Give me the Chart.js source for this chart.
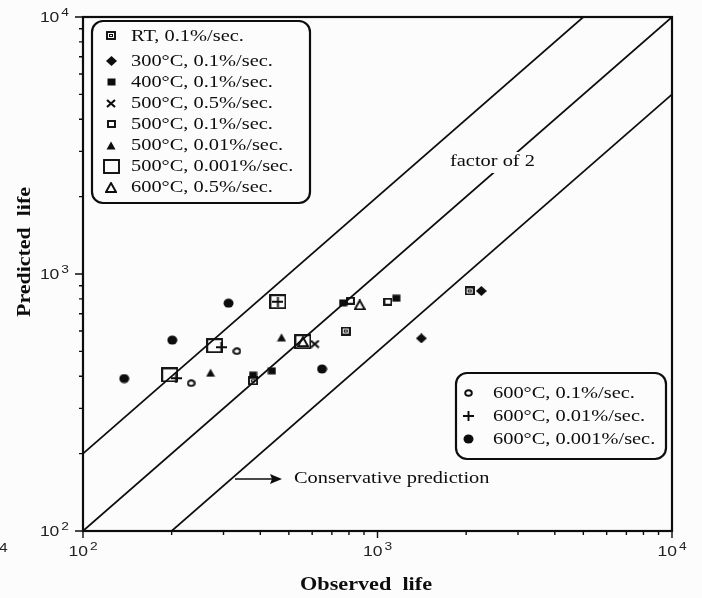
<!DOCTYPE html>
<html>
<head>
<meta charset="utf-8">
<script src="https://cdn.jsdelivr.net/npm/chart.js@4.4.1/dist/chart.umd.min.js"></script>
<style>
html,body{margin:0;padding:0;background:#fcfcfc;}
#wrap{width:702px;height:598px;}
</style>
</head>
<body>
<div id="wrap"><canvas id="c" width="702" height="598"></canvas></div>
<script>
// ---------------- data ----------------
const seriesLabels = [
  "RT, 0.1%/sec.",
  "300°C, 0.1%/sec.",
  "400°C, 0.1%/sec.",
  "500°C, 0.5%/sec.",
  "500°C, 0.1%/sec.",
  "500°C, 0.01%/sec.",
  "500°C, 0.001%/sec.",
  "600°C, 0.5%/sec.",
  "600°C, 0.1%/sec.",
  "600°C, 0.01%/sec.",
  "600°C, 0.001%/sec."
];
const rtObs = [378, 780, 2056],        rtPred = [384, 600, 859];
const t300Obs = [1409, 2252],          t300Pred = [562, 859];
const t400Obs = [378, 438, 764, 1159], t400Pred = [404, 420, 772, 805];
const t500r5Obs = [612],               t500r5Pred = [534];
const t500r1Obs = [809, 1085],         t500r1Pred = [787, 780];
const t500r01Obs = [271, 472],         t500r01Pred = [413, 567];
const t500r001Obs = [197, 280, 459, 558], t500r001Pred = [405, 526, 780, 545];
const t600r5Obs = [558, 870],          t600r5Pred = [545, 758];
const t600r1Obs = [233, 333],          t600r1Pred = [376, 501];
const t600r01Obs = [207, 295, 459],    t600r01Pred = [393, 519, 780];
const t600r001Obs = [138, 201, 312, 648], t600r001Pred = [392, 553, 770, 427];

const seriesObs  = [rtObs, t300Obs, t400Obs, t500r5Obs, t500r1Obs, t500r01Obs, t500r001Obs, t600r5Obs, t600r1Obs, t600r01Obs, t600r001Obs];
const seriesPred = [rtPred, t300Pred, t400Pred, t500r5Pred, t500r1Pred, t500r01Pred, t500r001Pred, t600r5Pred, t600r1Pred, t600r01Pred, t600r001Pred];
const seriesMarkers = ["rt","diamond","fsquare","x","osquare","ftri","bigsq","otri","ocircle","plus","fcircle"];

// reference lines: predicted = 2x observed, = observed, = observed/2
const upperLineX = [100, 5000],  upperLineY = [200, 10000];
const equalLineX = [100, 10000], equalLineY = [100, 10000];
const lowerLineX = [200, 10000], lowerLineY = [100, 5000];

const axisMin = 100, axisMax = 10000;
const tickValues = [100, 1000, 10000];
const tickBases = ["10", "10", "10"];
const tickExps = ["2", "3", "4"];
const xTitle = "Observed  life";
const yTitle = "Predicted  life";
const note1 = "factor of 2";
const note2 = "Conservative prediction";

// ---------------- markers ----------------
const INK = "#0d0d0d";
function makeMarker(kind){
  const dims = {rt:[10,9], diamond:[11,10], fsquare:[9,8], x:[10,9], osquare:[9,8], ftri:[10,9],
                bigsq:[17,15], otri:[12,11], ocircle:[9,8], plus:[11,10], fcircle:[11,10]};
  const [w,h] = dims[kind];
  const c = document.createElement("canvas"); c.width = w; c.height = h;
  const g = c.getContext("2d");
  g.strokeStyle = INK; g.fillStyle = INK; g.lineWidth = 1.9;
  switch(kind){
    case "rt":
      g.strokeRect(1,1,w-2,h-2); g.lineWidth=1; g.strokeRect(3.5,3.5,w-7,h-7); break;
    case "diamond":
      g.beginPath(); g.moveTo(w/2,0); g.lineTo(w,h/2); g.lineTo(w/2,h); g.lineTo(0,h/2); g.closePath(); g.fill(); break;
    case "fsquare":
      g.fillRect(0.5,0.5,w-1,h-1); break;
    case "x":
      g.lineWidth=2.2; g.beginPath(); g.moveTo(1,1); g.lineTo(w-1,h-1); g.moveTo(w-1,1); g.lineTo(1,h-1); g.stroke(); break;
    case "osquare":
      g.strokeRect(1,1,w-2,h-2); break;
    case "ftri":
      g.beginPath(); g.moveTo(w/2,0.5); g.lineTo(w-0.5,h-0.5); g.lineTo(0.5,h-0.5); g.closePath(); g.fill(); break;
    case "bigsq":
      g.strokeRect(1,1,w-2,h-2); break;
    case "otri":
      g.beginPath(); g.moveTo(w/2,1); g.lineTo(w-1,h-1); g.lineTo(1,h-1); g.closePath(); g.stroke(); break;
    case "ocircle":
      g.beginPath(); g.ellipse(w/2,h/2,w/2-1.2,h/2-1.2,0,0,Math.PI*2); g.stroke(); break;
    case "plus":
      g.beginPath(); g.moveTo(w/2,0); g.lineTo(w/2,h); g.moveTo(0,h/2); g.lineTo(w,h/2); g.stroke(); break;
    case "fcircle":
      g.beginPath(); g.ellipse(w/2,h/2,w/2-0.5,h/2-0.5,0,0,Math.PI*2); g.fill(); break;
  }
  return c;
}
const markerCanvas = {};
seriesMarkers.forEach(k => { markerCanvas[k] = makeMarker(k); });

// ---------------- datasets ----------------
const pts = (xs, ys) => xs.map((x,i) => ({x:x, y:ys[i]}));
const datasets = seriesLabels.map((lab,i) => ({
  type: "scatter",
  label: lab,
  data: pts(seriesObs[i], seriesPred[i]),
  pointStyle: markerCanvas[seriesMarkers[i]],
  pointRadius: 5,
  order: 0
}));
[[upperLineX,upperLineY],[equalLineX,equalLineY],[lowerLineX,lowerLineY]].forEach(([xs,ys]) => {
  datasets.push({type:"line", label:"", data: pts(xs,ys), borderColor: INK, borderWidth: 1.7,
                 pointRadius: 0, fill:false, order: 1, tension: 0});
});

// ---------------- text helpers ----------------
const SX = 1.2;
function sText(ctx, text, x, y, align, sx){
  ctx.save(); ctx.translate(x,y); ctx.scale(sx,1);
  ctx.textAlign = align; ctx.fillText(text,0,0); ctx.restore();
}
function powLabel(ctx, base, exp, x, y, align){
  ctx.font = "14px 'Liberation Sans', Arial, sans-serif";
  const wb = ctx.measureText(base).width * 1.25;
  ctx.font = "11px 'Liberation Sans', Arial, sans-serif";
  const we = ctx.measureText(exp).width * 1.25;
  const tot = wb + 2 + we;
  const left = align === "center" ? x - tot/2 : x - tot;
  ctx.textBaseline = "middle";
  ctx.font = "14px 'Liberation Sans', Arial, sans-serif";
  sText(ctx, base, left, y, "left", 1.25);
  ctx.font = "11px 'Liberation Sans', Arial, sans-serif";
  sText(ctx, exp, left + wb + 2, y - 5, "left", 1.25);
}
function roundBox(ctx, x0, y0, x1, y1, r){
  ctx.beginPath();
  ctx.moveTo(x0+r,y0); ctx.lineTo(x1-r,y0); ctx.arcTo(x1,y0,x1,y0+r,r);
  ctx.lineTo(x1,y1-r); ctx.arcTo(x1,y1,x1-r,y1,r);
  ctx.lineTo(x0+r,y1); ctx.arcTo(x0,y1,x0,y1-r,r);
  ctx.lineTo(x0,y0+r); ctx.arcTo(x0,y0,x0+r,y0,r); ctx.closePath();
}

const decor = {
  id: "decor",
  beforeDraw(chart){
    const ctx = chart.ctx; ctx.save(); ctx.fillStyle="#fcfcfc"; ctx.fillRect(0,0,chart.width,chart.height); ctx.restore();
  },
  afterDatasetsDraw(chart){
    const ctx = chart.ctx, xs = chart.scales.x, ys = chart.scales.y, a = chart.chartArea;
    ctx.save();
    ctx.strokeStyle = INK; ctx.fillStyle = INK;
    // frame
    ctx.lineWidth = 2.2;
    ctx.strokeRect(a.left, a.top, a.right - a.left, a.bottom - a.top);
    // ticks
    ctx.lineWidth = 1.4;
    for (let d = axisMin; d <= axisMax; d *= 10){
      for (let m = 1; m <= 9; m++){
        const v = m*d; if (v > axisMax) break;
        const major = (m === 1);
        const px = xs.getPixelForValue(v);
        const py = ys.getPixelForValue(v);
        ctx.beginPath();
        ctx.moveTo(px, a.bottom); ctx.lineTo(px, a.bottom + (major ? 7 : 4));
        ctx.moveTo(a.left - (major ? 8 : 4), py); ctx.lineTo(a.left, py);
        ctx.stroke();
      }
    }
    // tick labels
    ctx.fillStyle = "#222";
    tickValues.forEach((v,i) => {
      powLabel(ctx, tickBases[i], tickExps[i], xs.getPixelForValue(v), a.bottom + 21, "center");
      powLabel(ctx, tickBases[i], tickExps[i], a.left - 14, ys.getPixelForValue(v) + 1, "right");
    });
    ctx.font = "13px 'Liberation Sans', Arial, sans-serif"; ctx.textBaseline="middle";
    sText(ctx, "4", -1, 548, "left", 1.2);
    // axis titles
    ctx.fillStyle = INK;
    ctx.font = "bold 18px 'Liberation Serif', 'Times New Roman', serif";
    ctx.textBaseline = "middle";
    let w = ctx.measureText(xTitle).width;
    ctx.save(); ctx.translate(366, 585); ctx.scale(132/w, 1); ctx.textAlign="center"; ctx.fillText(xTitle,0,0); ctx.restore();
    w = ctx.measureText(yTitle).width;
    ctx.save(); ctx.translate(25, 252); ctx.rotate(-Math.PI/2); ctx.scale(130/w, 1.1); ctx.textAlign="center"; ctx.fillText(yTitle,0,0); ctx.restore();

    // annotation: factor of 2 (with background breaking the line)
    ctx.font = "17px 'Liberation Serif', 'Times New Roman', serif";
    ctx.fillStyle = "#fcfcfc"; ctx.fillRect(447, 152, 94, 21);
    ctx.fillStyle = INK; ctx.textBaseline = "middle";
    sText(ctx, note1, 450, 162, "left", SX);
    // conservative prediction arrow
    ctx.lineWidth = 1.6;
    ctx.beginPath(); ctx.moveTo(235, 479); ctx.lineTo(278, 479); ctx.stroke();
    ctx.beginPath(); ctx.moveTo(282, 479); ctx.lineTo(270, 474); ctx.lineTo(272, 479); ctx.lineTo(270, 484); ctx.closePath(); ctx.fill();
    sText(ctx, note2, 294, 479, "left", SX);

    // legend 1
    ctx.lineWidth = 2.2;
    roundBox(ctx, 92, 21, 310, 203, 11);
    ctx.fillStyle="#fcfcfc"; ctx.fill(); ctx.stroke();
    ctx.fillStyle = INK;
    const rows1 = [35.5, 61, 82, 103, 124, 145, 166, 187];
    for (let i = 0; i < 8; i++){
      const mc = markerCanvas[seriesMarkers[i]];
      ctx.drawImage(mc, Math.round(111 - mc.width/2), Math.round(rows1[i] - mc.height/2));
      sText(ctx, seriesLabels[i], 131, rows1[i] + 1, "left", SX);
    }
    // legend 2
    roundBox(ctx, 456, 373, 666, 459, 11);
    ctx.fillStyle="#fcfcfc"; ctx.fill(); ctx.stroke();
    ctx.fillStyle = INK;
    const rows2 = [393, 416, 439];
    for (let i = 8; i < 11; i++){
      const mc = markerCanvas[seriesMarkers[i]];
      const ry = rows2[i-8];
      ctx.drawImage(mc, Math.round(468 - mc.width/2), Math.round(ry - mc.height/2));
      sText(ctx, seriesLabels[i], 493, ry + 1, "left", SX);
    }
    ctx.restore();
  }
};

new Chart(document.getElementById("c"), {
  type: "scatter",
  data: { datasets },
  options: {
    responsive: false,
    animation: false,
    devicePixelRatio: 1,
    layout: { padding: { left: 83, right: 30, top: 17, bottom: 67 } },
    plugins: { legend: { display: false }, tooltip: { enabled: false } },
    scales: {
      x: { type: "logarithmic", min: axisMin, max: axisMax, display: false },
      y: { type: "logarithmic", min: axisMin, max: axisMax, display: false }
    }
  },
  plugins: [decor]
});
</script>
</body>
</html>
